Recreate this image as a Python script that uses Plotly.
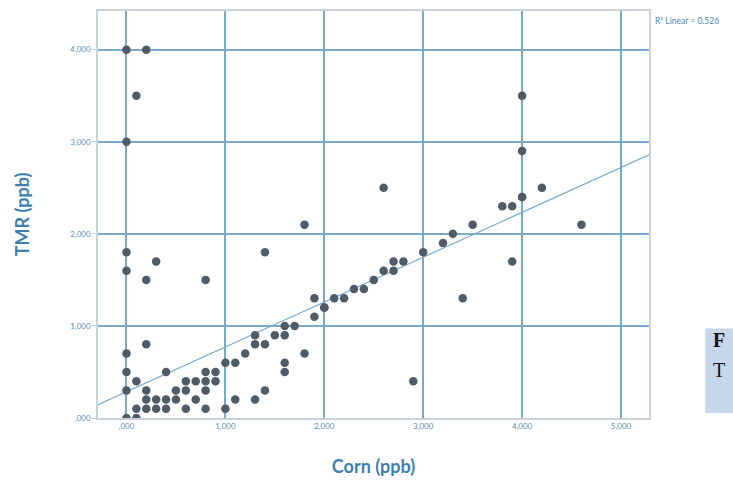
import numpy as np
import plotly.graph_objects as go

# Corn vs TMR mycotoxin concentrations (ppb)
corn = [
    0, 0, 0, 0, 0, 0, 0, 0,
    100, 100, 100, 100,
    200, 200, 200, 200, 200, 200,
    300, 300, 300,
    400, 400, 400,
    500, 500,
    600, 600, 600,
    700, 700,
    800, 800, 800, 800, 800,
    900, 900,
    1000, 1000,
    1100, 1100,
    1200,
    1300, 1300, 1300,
    1400, 1400, 1400,
    1500,
    1600, 1600, 1600, 1600,
    1700,
    1800, 1800,
    1900, 1900,
    2000, 2000,
    2100, 2200, 2300, 2400, 2500,
    2600, 2600,
    2700, 2700,
    2800, 2900, 3000, 3200, 3300, 3400, 3500, 3800,
    3900, 3900,
    4000, 4000, 4000, 4000,
    4200, 4600,
]
tmr = [
    0, 300, 500, 700, 1600, 1800, 3000, 4000,
    0, 100, 400, 3500,
    100, 200, 300, 800, 1500, 4000,
    100, 200, 1700,
    100, 200, 500,
    200, 300,
    100, 300, 400,
    200, 400,
    100, 300, 400, 500, 1500,
    400, 500,
    100, 600,
    200, 600,
    700,
    200, 800, 900,
    300, 800, 1800,
    900,
    500, 600, 900, 1000,
    1000,
    700, 2100,
    1100, 1300,
    1200, 1200,
    1300, 1300, 1400, 1400, 1500,
    1600, 2500,
    1600, 1700,
    1700, 400, 1800, 1900, 2000, 1300, 2100, 2300,
    1700, 2300,
    2400, 2400, 2900, 3500,
    2500, 2100,
]

# Reported linear fit (full dataset)
fit_intercept = 285
fit_slope = 0.487
r_squared = 0.526

x_ticks = [0, 1000, 2000, 3000, 4000, 5000]
x_labels = [",000", "1,000", "2,000", "3,000", "4,000", "5,000"]
y_ticks = [0, 1000, 2000, 3000, 4000]
y_labels = [",000", "1,000", "2,000", "3,000", "4,000"]

x_range = [-288, 5283]
y_range = [0, 4420]

fit_x = np.array(x_range, dtype=float)
fit_y = fit_intercept + fit_slope * fit_x

grid_col = "#78aac9"
text_col = "#3d7fae"

fig = go.Figure()
fig.add_trace(go.Scatter(
    x=fit_x, y=fit_y, mode="lines",
    line=dict(color="#7aaacd", width=1.2),
    hoverinfo="skip", showlegend=False,
))
fig.add_trace(go.Scatter(
    x=corn, y=tmr, mode="markers",
    marker=dict(color="#4f5c68", size=8.5, line=dict(width=0)),
    showlegend=False,
))

fig.update_layout(
    width=733, height=485,
    margin=dict(l=98, r=84, t=9, b=67),
    paper_bgcolor="white",
    plot_bgcolor="white",
    font=dict(family="Lato, Open Sans, sans-serif", color=text_col),
    xaxis=dict(
        range=x_range, tickvals=x_ticks, ticktext=x_labels,
        showgrid=True, gridcolor=grid_col, gridwidth=2,
        zeroline=False, showline=True, linecolor="#c9d2da", linewidth=1.5,
        mirror=True, ticks="", tickfont=dict(size=8, color="#5f8cb1"),
        title=dict(text="<b>Corn (ppb)</b>", font=dict(size=18, color=text_col),
                   standoff=30),
    ),
    yaxis=dict(
        range=y_range, tickvals=y_ticks, ticktext=y_labels,
        showgrid=True, gridcolor=grid_col, gridwidth=2,
        zeroline=False, showline=True, linecolor="#c9d2da", linewidth=1.5,
        mirror=True, ticks="outside", ticklen=4, tickcolor="#c9d2da",
        tickfont=dict(size=8, color="#5f8cb1"),
        title=dict(text="<b>TMR (ppb)</b>", font=dict(size=18, color=text_col),
                   standoff=36),
    ),
)

fig.add_annotation(
    xref="paper", yref="paper", x=1.0, y=1.0, xshift=4, yshift=-3,
    xanchor="left", yanchor="top", showarrow=False,
    text="R² Linear = %.3f" % r_squared,
    font=dict(size=8.5, color="#4a86b8"),
)

# Caption box at the lower right edge
fig.add_shape(
    type="rect", xref="paper", yref="paper",
    x0=1.102, x1=1.2, y0=0.012, y1=0.22,
    fillcolor="#c6d6eb", line=dict(width=0), layer="below",
)
fig.add_annotation(
    xref="paper", yref="paper", x=1.112, y=0.16, xanchor="left",
    showarrow=False, text="<b>F</b>",
    font=dict(family="Liberation Serif, serif", size=20, color="#111111"),
)
fig.add_annotation(
    xref="paper", yref="paper", x=1.112, y=0.085, xanchor="left",
    showarrow=False, text="T",
    font=dict(family="Liberation Serif, serif", size=20, color="#111111"),
)

fig.write_html("out.html")
